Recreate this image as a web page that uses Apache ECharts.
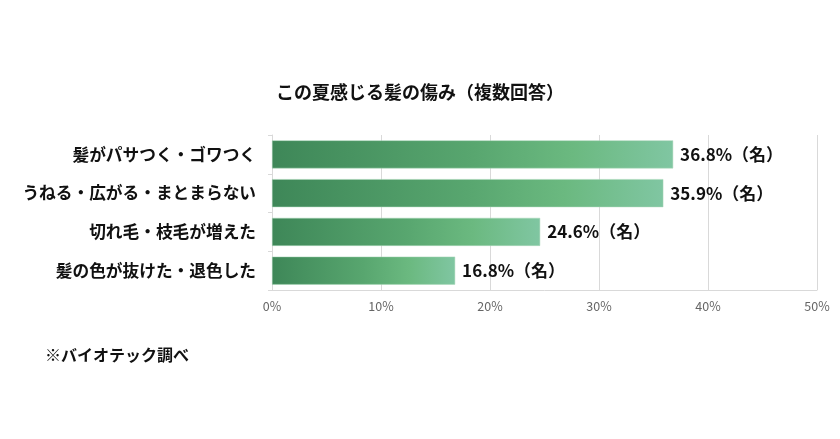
<!DOCTYPE html>
<html><head><meta charset="utf-8">
<script src="https://cdn.jsdelivr.net/npm/echarts@6/dist/echarts.min.js"></script>
<style>html,body{margin:0;padding:0;background:#fff}#c{width:840px;height:439px}</style>
</head><body><div id="c"></div>
<script>
const categories = ['髪がパサつく・ゴワつく','うねる・広がる・まとまらない','切れ毛・枝毛が増えた','髪の色が抜けた・退色した'];
const values = [36.8, 35.9, 24.6, 16.8];
const xTicks = [0, 10, 20, 30, 40, 50];
const titleText = 'この夏感じる髪の傷み（複数回答）';
const noteText = '※バイオテック調べ';
const FONT = '"Noto Sans CJK JP", "Noto Sans", sans-serif';
const chart = echarts.init(document.getElementById('c'));
chart.setOption({
  backgroundColor: '#fff',
  animation: false,
  title: [
    {text: titleText, left: 'center', top: 78, textStyle: {fontFamily: FONT, fontSize: 18, fontWeight: 'bold', color: '#111'}},
    {text: noteText, left: 40, top: 342, textStyle: {fontFamily: FONT, fontSize: 16, fontWeight: 'bold', color: '#111'}}
  ],
  grid: {left: 272, right: 23, top: 135, bottom: 149},
  xAxis: {
    type: 'value', min: xTicks[0], max: xTicks[xTicks.length-1], interval: 10,
    axisLine: {show: true, lineStyle: {color: '#d9d9d9'}},
    axisTick: {show: false},
    splitLine: {lineStyle: {color: '#d9d9d9'}},
    axisLabel: {formatter: v => v + '%', color: '#666', fontFamily: FONT, fontSize: 12.5, margin: 10}
  },
  yAxis: {
    type: 'category', data: categories, inverse: true,
    axisLine: {show: true, lineStyle: {color: '#d9d9d9'}},
    axisTick: {show: true, length: 4, lineStyle: {color: '#d9d9d9'}},
    axisLabel: {color: '#111', fontFamily: FONT, fontSize: 16.7, fontWeight: 'bold', margin: 16}
  },
  series: [{
    type: 'bar', data: values, barWidth: 28,
    itemStyle: {
      color: new echarts.graphic.LinearGradient(0, 0, 1, 0, [
        {offset: 0, color: '#3e8758'},
        {offset: 0.5, color: '#58a66f'},
        {offset: 0.75, color: '#6bb980'},
        {offset: 1, color: '#80c6a2'}
      ]),
      borderColor: '#a8d6b8', borderWidth: 0.5
    },
    label: {show: true, position: 'right', distance: 7, formatter: p => p.value.toFixed(1) + '%（名）',
      color: '#111', fontFamily: FONT, fontSize: 17, fontWeight: 'bold'}
  }]
});
</script></body></html>
